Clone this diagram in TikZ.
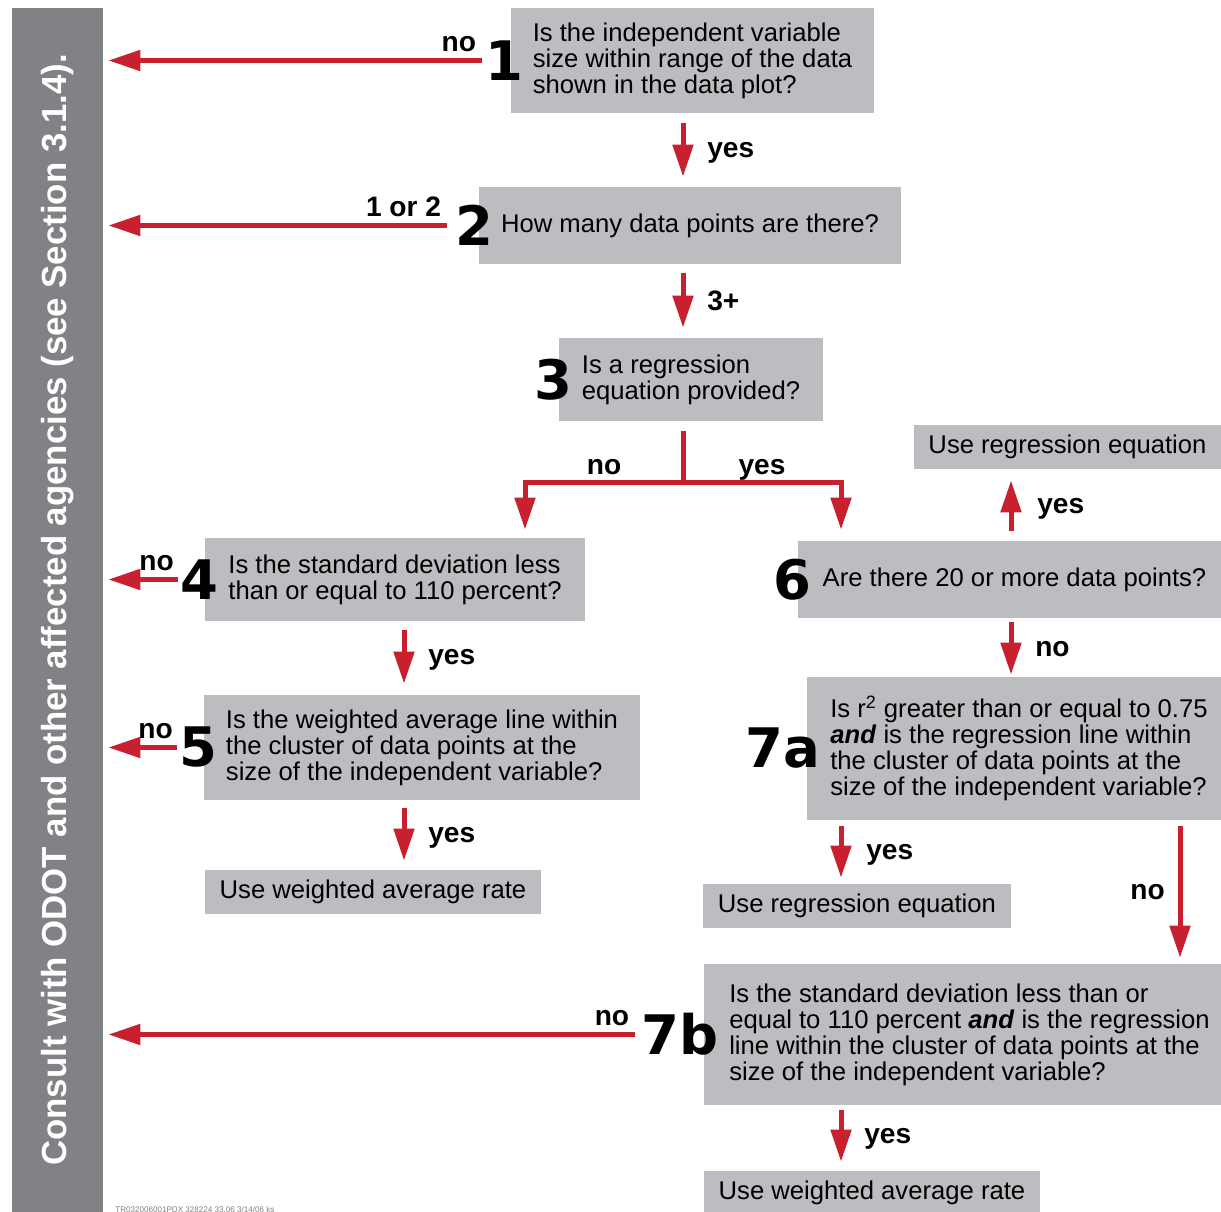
\documentclass[tikz,border=0pt]{standalone}
\usepackage{fontspec}
\setmainfont{Liberation Sans}
\newfontfamily\numfont{DejaVu Sans}
\usetikzlibrary{arrows.meta,positioning,calc}
\definecolor{flowred}{RGB}{200,32,46}
\definecolor{boxgray}{RGB}{188,189,192}
\definecolor{sidegray}{RGB}{128,130,133}

\begin{document}
\begin{tikzpicture}[x=0.02cm, y=-0.02cm,
    box/.style={fill=boxgray, align=left, inner sep=0pt, font=\fontsize{14.6}{14.8}\selectfont},
    num/.style={inner sep=0pt, font=\numfont\bfseries\fontsize{31}{31}\selectfont},
    lbl/.style={inner sep=1pt, text depth=0pt, font=\bfseries\fontsize{16}{16}\selectfont},
    flowline/.style={draw=flowred, line width=0.1cm},
    flow/.style={flowline, -{Triangle[width=0.4cm,length=0.64cm]}}]
    \useasboundingbox (0,0) rectangle (1221,1212);

    \node[fill=sidegray, rotate=90, minimum width=24.08cm, minimum height=1.82cm, inner sep=0pt,
      text=white, font=\bfseries\fontsize{19.8}{20}\selectfont] (side) at (57.5,610)
      {Consult with ODOT and other affected agencies (see Section 3.1.4).};

    \coordinate (spine) at (683,0);
    \coordinate (lcol) at (404,0);
    \coordinate (ncol) at (525,0);
    \coordinate (mcol) at (841,0);
    \coordinate (rcol) at (1011,0);
    \coordinate (ecol) at (1180,0);

    \node[box, minimum width=7.26cm, minimum height=2.10cm] (q1) at (692.5,60.5)
      {Is the independent variable\\size within range of the data\\shown in the data plot?};
    \node[box, minimum width=8.44cm, minimum height=1.54cm] (q2) at (690,225.5)
      {How many data points are there?};
    \node[box, minimum width=5.28cm, minimum height=1.66cm] (q3) at (691,379.5)
      {Is a regression\\equation provided?};
    \node[box, minimum width=7.60cm, minimum height=1.66cm] (q4) at (395,579.5)
      {Is the standard deviation less\\than or equal to 110 percent?};
    \node[box, minimum width=8.72cm, minimum height=2.10cm] (q5) at (422,747.5)
      {Is the weighted average line within\\the cluster of data points at the\\size of the independent variable?};
    \node[box, minimum width=6.72cm, minimum height=0.88cm] (r5) at (373,892)
      {Use weighted average rate};
    \node[box, minimum width=8.66cm, minimum height=1.54cm] (q6) at (1014.5,579.5)
      {Are there 20 or more data points?};
    \node[box, minimum width=6.14cm, minimum height=0.88cm] (r6) at (1067.5,447)
      {Use regression equation};
    \node[box, minimum width=8.48cm, minimum height=2.86cm] (q7a) at (1019,748.5)
      {Is r\textsuperscript{2} greater than or equal to 0.75\\\textbf{\textit{and}} is the regression line within\\the cluster of data points at the\\size of the independent variable?};
    \node[box, minimum width=6.16cm, minimum height=0.88cm] (r7a) at (857,906)
      {Use regression equation};
    \node[box, minimum width=10.62cm, minimum height=2.82cm] (q7b) at (969.5,1034.5)
      {Is the standard deviation less than or\\equal to 110 percent \textbf{\textit{and}} is the regression\\line within the cluster of data points at the\\size of the independent variable?};
    \node[box, minimum width=6.72cm, minimum height=0.88cm] (r7b) at (872,1193)
      {Use weighted average rate};

    \node[num, left=-0.26cm of q1] (n1) {1};
    \node[num, left=-0.30cm of q2] (n2) {2};
    \node[num, left=-0.28cm of q3] (n3) {3};
    \node[num, left=-0.28cm of q4] (n4) {4};
    \node[num, left=-0.28cm of q5] (n5) {5};
    \node[num, left=-0.28cm of q6] (n6) {6};
    \node[num, left=-0.28cm of q7a] (n7a) {7a};
    \node[num, left=-0.30cm of q7b] (n7b) {7b};

    \draw[flow, shorten >=0.1cm] ($(n1.west)+(-3,0)$) node[lbl, above left=2.5pt and 1pt] (no1) {no} -- (n1 -| side.south);
    \draw[flow, shorten >=0.1cm] ($(n2.west)+(-8,0)$) node[lbl, above left=2.5pt and 1pt] (few2) {1 or 2} -- (n2 -| side.south);
    \draw[flow, shorten >=0.1cm] ($(n4.west)+(-2,0)$) node[lbl, above left=2.5pt and 0pt] (no4) {no} -- (n4 -| side.south);
    \draw[flow, shorten >=0.1cm] ($(n5.west)+(-2,0)$) node[lbl, above left=2.5pt and 0pt] (no5) {no} -- (n5 -| side.south);
    \draw[flow, shorten >=0.1cm] ($(n7b.west)+(-6,0)$) node[lbl, above left=2.5pt and 1pt] (no7b) {no} -- (n7b -| side.south);

    \draw[flow] ($(q1.south -| spine)+(0,10)$) -- node[lbl, right=0.4cm] (yes1) {yes} ($(q2.north -| spine)+(0,-10)$);
    \draw[flow] ($(q2.south -| spine)+(0,9)$) -- node[lbl, right=0.4cm] (many2) {3+} ($(q3.north -| spine)+(0,-10)$);
    \coordinate (fork) at ($(q3.south -| spine)+(0,61)$);
    \draw[flowline] ($(q3.south -| spine)+(0,10)$) -- (fork);
    \draw[flow] (fork) -| node[pos=0.25, lbl, above=2pt] (no3) {no} ($(q4.north -| ncol)+(0,-8)$);
    \draw[flow] (fork) -| node[pos=0.25, lbl, above=2pt] (yes3) {yes} ($(q6.north -| mcol)+(0,-11)$);

    \draw[flow] ($(q4.south -| lcol)+(0,9)$) -- node[lbl, right=0.4cm] (yes4) {yes} ($(q5.north -| lcol)+(0,-11)$);
    \draw[flow] ($(q5.south -| lcol)+(0,8)$) -- node[lbl, right=0.4cm] (yes5) {yes} ($(r5.north -| lcol)+(0,-9)$);

    \draw[flow] ($(q6.north -| rcol)+(0,-10)$) -- node[lbl, right=0.44cm] (yes6) {yes} ($(r6.south -| rcol)+(0,11)$);
    \draw[flow] ($(q6.south -| rcol)+(0,4)$) -- node[lbl, right=0.4cm] (no6) {no} ($(q7a.north -| rcol)+(0,-2)$);
    \draw[flow] ($(q7a.south -| mcol)+(0,6)$) -- node[lbl, right=0.42cm] (yes7a) {yes} ($(r7a.north -| mcol)+(0,-6)$);
    \draw[flow] ($(q7a.south -| ecol)+(0,6)$) -- node[lbl, left=0.22cm] (no7a) {no} ($(q7b.north -| ecol)+(0,-6)$);
    \draw[flow] ($(q7b.south -| mcol)+(0,5)$) -- node[lbl, right=0.38cm] (yes7b) {yes} ($(r7b.north -| mcol)+(0,-9)$);

    \node[anchor=base west, inner sep=0pt, text=gray, font=\fontsize{4.6}{5}\selectfont] (stamp) at (115,1212)
      {TR032006001PDX 328224 33.06 3/14/06 ks};
\end{tikzpicture}
\end{document}
